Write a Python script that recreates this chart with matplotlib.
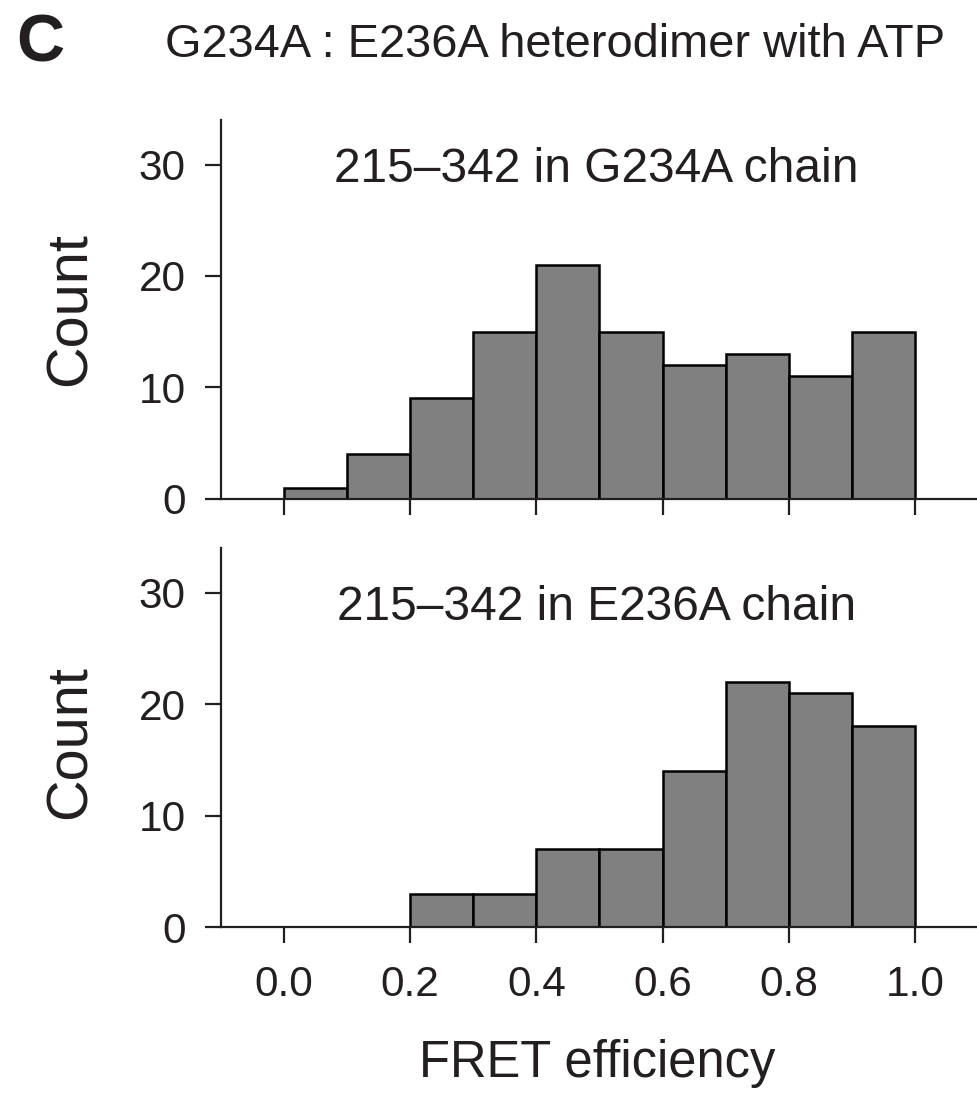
import matplotlib
matplotlib.use("Agg")
import matplotlib.pyplot as plt
import numpy as np

plt.rcParams['font.family'] = ['Liberation Sans', 'DejaVu Sans']

bin_edges = [0.0, 0.1, 0.2, 0.3, 0.4, 0.5, 0.6, 0.7, 0.8, 0.9, 1.0]
top_counts = [1, 4, 9, 15, 21, 15, 12, 13, 11, 15]
bottom_counts = [0, 0, 3, 3, 7, 7, 14, 22, 21, 18]
xticks = [0.0, 0.2, 0.4, 0.6, 0.8, 1.0]
xticklabels = ['0.0', '0.2', '0.4', '0.6', '0.8', '1.0']
yticks = [0, 10, 20, 30]
panel_labels = ['215–342 in G234A chain', '215–342 in E236A chain']
title = 'G234A : E236A heterodimer with ATP'

TXT = '#231f20'
fig = plt.figure(figsize=(9.78, 11.19), dpi=100)

W, H = 978, 1119
def rect(l, t, r, b):
    return [l / W, 1 - b / H, (r - l) / W, (b - t) / H]

ax1 = fig.add_axes(rect(221, 120, 978, 498.7))
ax2 = fig.add_axes(rect(221, 548, 978, 927.3))

for ax, counts, lab, ly in [(ax1, top_counts, panel_labels[0], 29.6),
                            (ax2, bottom_counts, panel_labels[1], 28.7)]:
    lefts = bin_edges[:-1]
    widths = np.diff(bin_edges)
    ax.bar(lefts, counts, width=widths, align='edge', color='#808080',
           edgecolor='black', linewidth=1.8, zorder=2)
    ax.set_xlim(-0.1, 1.1)
    ax.set_ylim(0, 34)
    for s in ['top', 'right']:
        ax.spines[s].set_visible(False)
    for s in ['left', 'bottom']:
        ax.spines[s].set_linewidth(1.6)
        ax.spines[s].set_color(TXT)
        ax.spines[s].set_zorder(3)
    ax.set_yticks(yticks)
    ax.set_yticklabels([str(v) for v in yticks])
    ax.set_xticks(xticks)
    ax.tick_params(axis='both', direction='out', length=11.5, width=1.6,
                   color=TXT, labelcolor=TXT, labelsize=30.5, pad=14)
    ax.text(0.495, ly, lab, ha='center', va='center', fontsize=34.5, color=TXT)

ax1.set_xticklabels([])
ax2.set_xticklabels(xticklabels)
ax2.tick_params(axis='x', pad=16)

for yc in [309, 742]:
    fig.text(71 / W, 1 - yc / H, 'Count', rotation=90, ha='center',
             va='center', fontsize=41.5, color=TXT)

fig.text(597 / W, 1 - 1063 / H, 'FRET efficiency', ha='center', va='center',
         fontsize=36.5, color=TXT)
fig.text(16 / W, 1 - 45 / H, 'C', ha='left', va='center', fontsize=48,
         fontweight='heavy', color=TXT)
fig.text(165 / W, 1 - 45 / H, title, ha='left', va='center', fontsize=33.8,
         color=TXT)

fig.savefig('out.png', dpi=100)
